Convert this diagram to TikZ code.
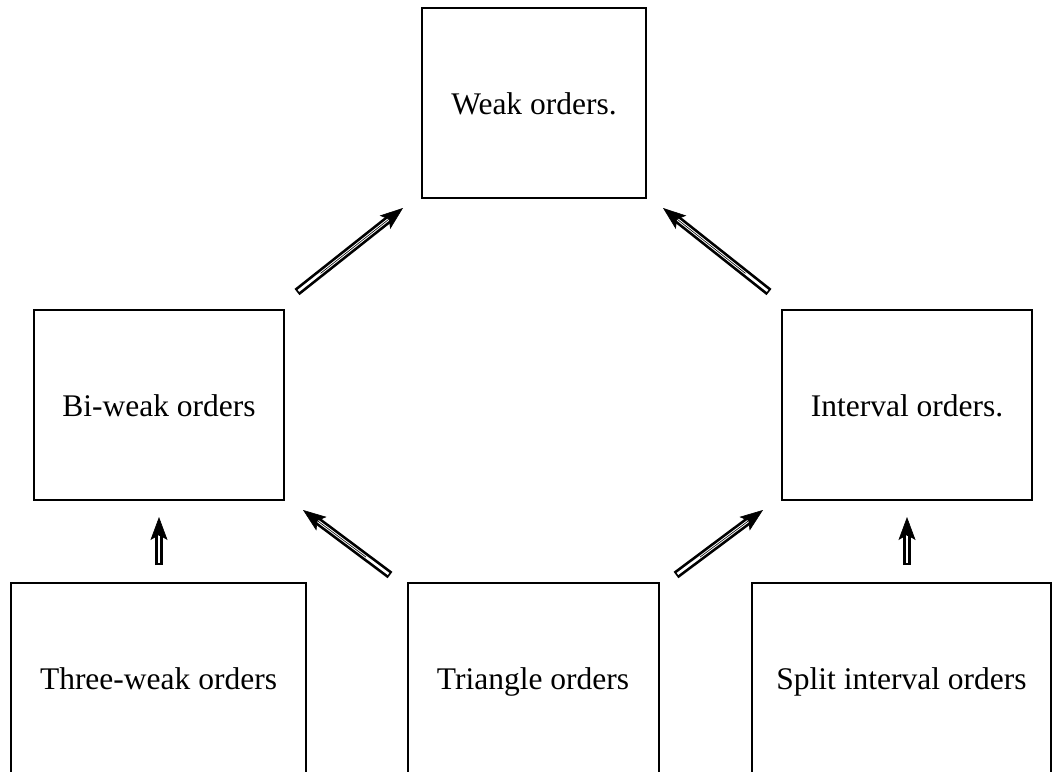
\documentclass[tikz,border=0pt]{standalone}
\usepackage{fontspec}
\setmainfont{Liberation Serif}
\usetikzlibrary{arrows.meta}
\tikzset{
  box/.style={draw, line width=2pt, inner sep=0pt, text height=24pt, text depth=2pt,
    font=\fontsize{31.5}{37}\selectfont},
}
\begin{document}
\begin{tikzpicture}[x=1pt,y=-1pt]
\useasboundingbox (0,0) rectangle (1052,771);
\clip (0,0) rectangle (1052,771);
\node[box, minimum width=224pt, minimum height=190pt] (weak) at (534,103) {Weak orders.};
\node[box, minimum width=250pt, minimum height=190pt] (biweak) at (159,405) {Bi-weak orders};
\node[box, minimum width=250pt, minimum height=190pt] (interval) at (907,405) {Interval orders.};
\node[box, minimum width=295pt, minimum height=190pt] (three) at (158.5,678) {Three-weak orders};
\node[box, minimum width=251pt, minimum height=190pt] (triangle) at (533,678) {Triangle orders};
\node[box, minimum width=299pt, minimum height=190pt] (split) at (901.5,678) {Split interval orders};
% arrow end points
\coordinate (a1s) at (297,292); \coordinate (a1t) at (403,208);
\coordinate (a2s) at (769,292); \coordinate (a2t) at (663,208);
\coordinate (a3s) at (159,565); \coordinate (a3t) at (159,517);
\coordinate (a4s) at (907,565); \coordinate (a4t) at (907,517);
\coordinate (a5s) at (390,575); \coordinate (a5t) at (303,510);
\coordinate (a6s) at (676,575); \coordinate (a6t) at (763,510);
\foreach \s/\t in {a1s/a1t,a2s/a2t,a3s/a3t,a4s/a4t,a5s/a5t,a6s/a6t}{
  \draw[line width=8pt, shorten >=12pt] (\s) -- (\t);
  \draw[white, line width=2.6pt, shorten <=1.8pt, shorten >=15pt] (\s) -- (\t);
  \draw[line width=0.6pt, -{Stealth[length=23pt,width=17pt,inset=5pt]}, shorten <=30pt] (\s) -- (\t);
}
\end{tikzpicture}
\end{document}
